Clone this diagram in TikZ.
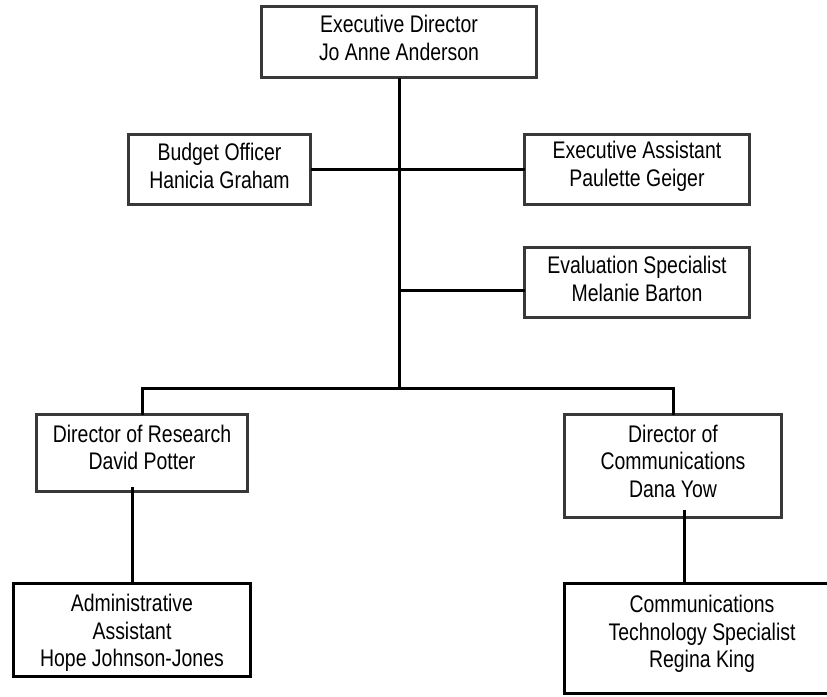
\documentclass[tikz,border=0pt]{standalone}
\usepackage{fontspec}
\setmainfont{Liberation Sans}[FakeStretch=0.81]
\usetikzlibrary{calc}
\begin{document}
\begin{tikzpicture}[x=1pt,y=-1pt,
  box/.style={draw=black!78,line width=3pt,fill=white,inner sep=0pt,outer sep=0pt},
  darkbox/.style={box,draw=black},
  txt/.style={inner sep=0pt,align=center,font=\fontsize{24}{27.5}\selectfont},
  link/.style={line width=3pt,draw=black}]
\useasboundingbox (0,0) rectangle (827,696);
\node[box,minimum width=275pt,minimum height=71pt] (top) at (399,42) {};
\node[box,minimum width=182pt,minimum height=70pt] (budget) at (219.5,169.5) {};
\node[box,minimum width=225pt,minimum height=70pt] (execasst) at (637,169.5) {};
\node[box,minimum width=225pt,minimum height=70pt] (eval) at (637,282.5) {};
\node[box,minimum width=211pt,minimum height=77pt] (research) at (142,453) {};
\node[box,minimum width=217pt,minimum height=103pt] (dircomm) at (673,466) {};
\node[darkbox,minimum width=237pt,minimum height=93pt] (admin) at (132,630) {};
\node[darkbox,minimum width=277pt,minimum height=110pt] (commtech) at (703,638.5) {};
\node[txt] (topt) at (399,38) {Executive Director\\Jo Anne Anderson};
\node[txt] (budgett) at (219.5,166) {Budget Officer\\Hanicia Graham};
\node[txt] (execasstt) at (637,166.5) {Executive Assistant\\Paulette Geiger};
\node[txt] (evalt) at (637,279) {Evaluation Specialist\\Melanie Barton};
\node[txt] (researcht) at (142,447.5) {Director of Research\\David Potter};
\node[txt] (dircommt) at (673,461) {Director of\\Communications\\Dana Yow};
\node[txt] (admint) at (132,633) {Administrative\\Assistant\\Hope Johnson-Jones};
\node[txt] (commtecht) at (702,634) {Communications\\Technology Specialist\\Regina King};
\coordinate (j) at (398,388);
\coordinate (evj) at (398,290);
\coordinate (a1) at (132,487);
\coordinate (c1) at (684,510);
\draw[link] (top.south) -- (top.south |- j);
\draw[link] (research.north) |- (j) -| (dircomm.north);
\draw[link] (budget.east) -- (execasst.west);
\draw[link] (evj) -- (evj -| eval.west);
\draw[link] (a1) -- (a1 |- admin.north);
\draw[link] (c1) -- (c1 |- commtech.north);
\end{tikzpicture}
\end{document}
